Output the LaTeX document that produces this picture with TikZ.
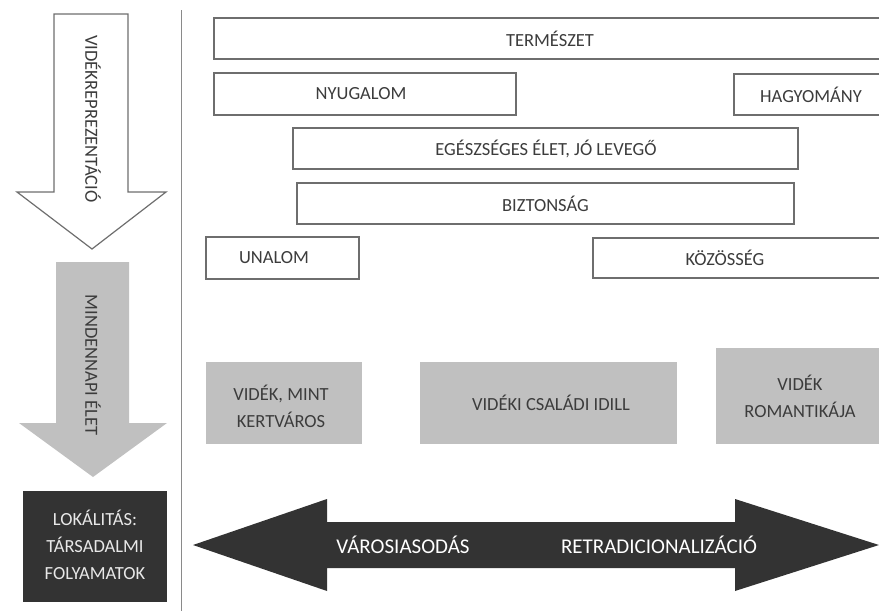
\documentclass[tikz,border=0pt]{standalone}
\usepackage{fontspec}
\setmainfont{Carlito}
\definecolor{txt}{HTML}{3C3C3C}
\definecolor{edge}{HTML}{6E6E6E}
\definecolor{midgray}{HTML}{C0C0C0}
\definecolor{darkfill}{HTML}{333333}
\definecolor{lighttxt}{HTML}{E8E8E8}
\definecolor{vline}{HTML}{8A8A8A}
\begin{document}
\begin{tikzpicture}[x=1pt,y=-1pt,
  lbl/.style={font=\fontsize{18.5}{27}\selectfont, text=txt, inner sep=0pt, align=center},
  wbox/.style={draw=edge, line width=1.2pt, fill=white, inner sep=0pt, outer sep=0pt},
  gbox/.style={fill=midgray, inner sep=0pt, outer sep=0pt, font=\fontsize{18.5}{27}\selectfont, text=txt, align=center},
  vtext/.style={lbl, rotate=-90},
  big/.style={font=\fontsize{21}{25}\selectfont, text=white, inner sep=0pt}
]
\useasboundingbox (0,0) rectangle (879,611);
\begin{scope}
\clip (0,0) rectangle (879,611);

% separator line
\coordinate (lineTop) at (181,10);
\coordinate (lineBot) at (181,611);
\draw[vline, line width=1pt] (lineTop) -- (lineBot);

% left arrows
\draw[edge, line width=1.2pt, fill=white]
  (54,14) -- (128,14) -- (128,192) -- (166,192) -- (92,249) -- (17,192) -- (54,192) -- cycle;
\node[vtext] (videkrep) at (93,119) {VIDÉKREPREZENTÁCIÓ};

\fill[midgray]
  (56,262) -- (129,262) -- (129,423) -- (167,423) -- (93,477) -- (19,423) -- (56,423) -- cycle;
\node[vtext] (mindennapi) at (93,365) {MINDENNAPI ÉLET};

\node[fill=darkfill, minimum width=144pt, minimum height=111pt, inner sep=0pt, outer sep=0pt] (lok) at (95,546.5) {};
\node[lbl, text=lighttxt] (loktext) at (95,545) {LOKÁLITÁS:\\TÁRSADALMI\\FOLYAMATOK};

% white boxes
\node[wbox, minimum width=672pt, minimum height=41pt] (termeszet) at (550,38.5) {};
\node[lbl] (termeszetT) at (termeszet.center) {TERMÉSZET};
\node[wbox, minimum width=302pt, minimum height=42pt] (nyugalom) at (365,94) {};
\node[lbl] (nyugalomT) at (361,94) {NYUGALOM};
\node[wbox, minimum width=154pt, minimum height=41pt] (hagyomany) at (811,94.5) {};
\node[lbl] (hagyomanyT) at (811,94.5) {HAGYOMÁNY};
\node[wbox, minimum width=505pt, minimum height=41pt] (egeszseg) at (545.5,148.5) {};
\node[lbl] (egeszsegT) at (546,148.5) {EGÉSZSÉGES ÉLET, JÓ LEVEGŐ};
\node[wbox, minimum width=497pt, minimum height=41pt] (biztonsag) at (545.5,203.5) {};
\node[lbl] (biztonsagT) at (545.5,203.5) {BIZTONSÁG};
\node[wbox, minimum width=153pt, minimum height=42pt] (unalom) at (282.5,258) {};
\node[lbl] (unalomT) at (274,258) {UNALOM};
\node[wbox, minimum width=297pt, minimum height=40pt] (kozosseg) at (741.5,258) {};
\node[lbl] (kozossegT) at (725,258) {KÖZÖSSÉG};

% gray boxes
\node[gbox, minimum width=156pt, minimum height=82pt] (kertvaros) at (284,403) {};
\node[lbl] (kertvarosT) at (281,406.5) {VIDÉK, MINT\\KERTVÁROS};
\node[gbox, minimum width=257pt, minimum height=82pt] (idill) at (548.5,403) {};
\node[lbl] (idillT) at (551,403) {VIDÉKI CSALÁDI IDILL};
\node[gbox, minimum width=168pt, minimum height=96pt] (romantika) at (800,396) {};
\node[lbl] (romantikaT) at (800,396.5) {VIDÉK\\ROMANTIKÁJA};

% double arrow
\fill[darkfill]
  (193,545) -- (327,499) -- (327,522) -- (735,522) -- (735,499) -- (879,545)
  -- (735,591) -- (735,568) -- (327,568) -- (327,591) -- cycle;
\node[big] (varos) at (403,545) {VÁROSIASODÁS};
\node[big] (retrad) at (659,545) {RETRADICIONALIZÁCIÓ};
\end{scope}
\end{tikzpicture}
\end{document}
